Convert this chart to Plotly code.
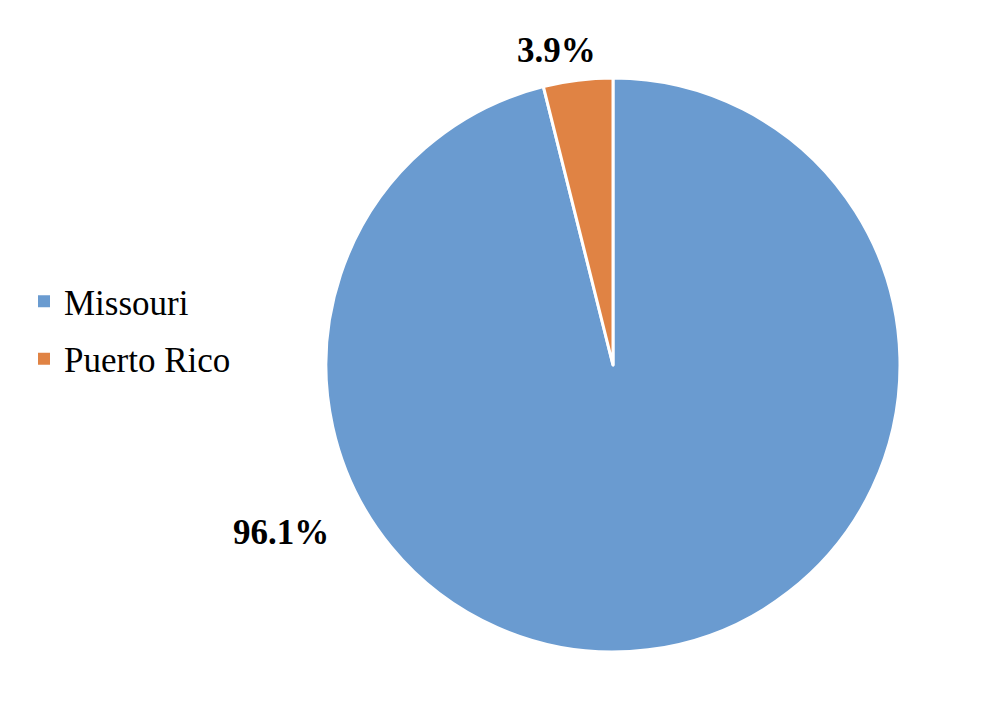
import plotly.graph_objects as go

labels = ["Missouri", "Puerto Rico"]
values = [96.1, 3.9]
colors = ["#6A9BD0", "#E08344"]
label_texts = ["96.1%", "3.9%"]

W, H = 990, 710
cx, cy, r = 613, 365, 287  # pixel centre/radius of pie
SERIF = "Liberation Serif, Times New Roman, serif"

fig = go.Figure()
fig.add_trace(go.Pie(
    labels=labels, values=values, sort=False, direction="clockwise", rotation=0,
    marker=dict(colors=colors, line=dict(color="white", width=3)),
    textinfo="none", hoverinfo="label+percent", showlegend=False,
    domain=dict(x=[(cx - r) / W, (cx + r) / W], y=[(H - cy - r) / H, (H - cy + r) / H]),
))

# legend entries (one group per slice so spacing can match the reference)
for i, (lab, col) in enumerate(zip(labels, colors)):
    fig.add_trace(go.Scatter(
        x=[None], y=[None], mode="markers", name=lab, legendgroup=f"g{i}",
        marker=dict(symbol="square", size=12, color=col),
    ))

# label placements (pixel offsets from centre)
label_pos = [(-332, 167), (-57, -315)]
for txt, (dx, dy) in zip(label_texts, label_pos):
    fig.add_annotation(
        x=(cx + dx) / W, y=(H - (cy + dy)) / H, xref="paper", yref="paper",
        xanchor="center", yanchor="middle",
        text=txt, showarrow=False,
        font=dict(family=SERIF, size=35, color="black", weight="bold"),
    )

fig.update_layout(
    width=W, height=H,
    margin=dict(l=0, r=0, t=0, b=0),
    paper_bgcolor="white", plot_bgcolor="white",
    showlegend=True,
    xaxis=dict(visible=False), yaxis=dict(visible=False),
    legend=dict(x=24 / W, y=(H - 272) / H, xanchor="left", yanchor="top",
                traceorder="grouped", tracegroupgap=9,
                font=dict(family=SERIF, size=35, color="black"),
                bgcolor="rgba(0,0,0,0)"),
    font=dict(family=SERIF),
)

fig.write_html("out.html", config={"displayModeBar": False},
               post_script="document.body.style.margin='0px';")
